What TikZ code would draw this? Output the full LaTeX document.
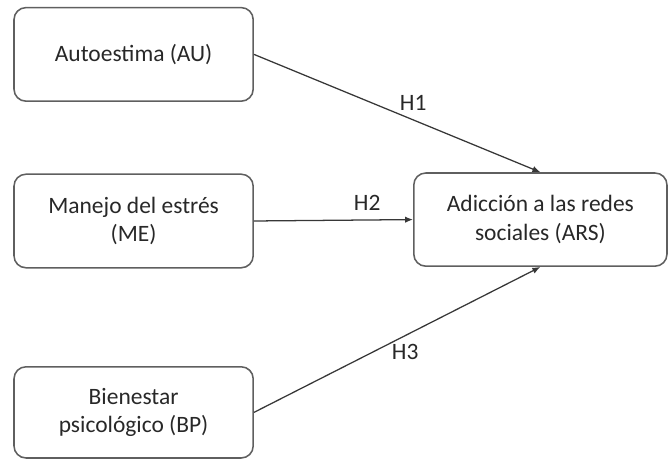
\documentclass[tikz,border=0pt]{standalone}
\usepackage{fontspec}
\setmainfont{Carlito}
\usepackage{xcolor}
\usepackage{tikz}
\usetikzlibrary{calc,arrows.meta,positioning}
\definecolor{boxGray}{RGB}{95,95,95}
\definecolor{lineGray}{RGB}{55,55,55}
\definecolor{txtGray}{RGB}{40,40,40}

\begin{document}
\begin{tikzpicture}[scale=1.0,
  varbox/.style={draw=boxGray, line width=1.1pt, rounded corners=0.3cm, align=center,
    minimum width=5.98cm, minimum height=2.34cm, inner sep=0pt, text=txtGray,
    font=\fontsize{16.7}{20.5}\selectfont},
  hyp/.style={text=txtGray, inner sep=0pt, font=\fontsize{16.7}{20.5}\selectfont},
  link/.style={lineGray, line width=0.9pt, -{Latex[length=2mm,width=1.6mm]}}]
\useasboundingbox (0,0) rectangle (16.7,11.5);
\node[varbox] (au) at (3.34,10.14) {Autoestima (AU)};
\node[varbox] (me) at (3.34,5.975) {Manejo del estrés\\(ME)};
\node[varbox, minimum height=2.28cm] (bp) at (3.34,1.19) {Bienestar\\psicológico (BP)};
\node[varbox, minimum width=6.33cm, minimum height=2.33cm] (ars) at (13.51,6.01) {Adicción a las redes\\sociales (ARS)};
\draw[link] (au.east) -- (ars.north);
\draw[link] (me.east) -- (ars.west);
\draw[link] (bp.east) -- (ars.south);
\node[hyp] (h1) at (10.33,8.93) {H1};
\node[hyp] (h2) at (9.18,6.43) {H2};
\node[hyp] (h3) at (10.13,2.7) {H3};
\end{tikzpicture}
\end{document}
